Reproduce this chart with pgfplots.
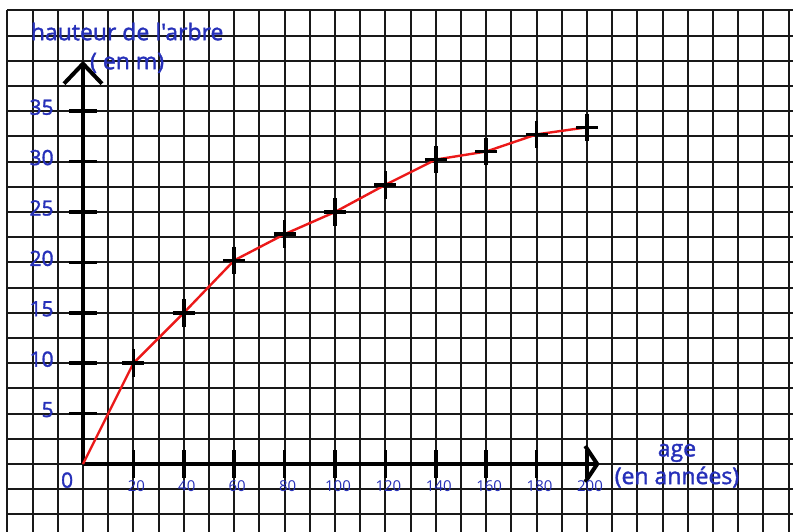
\documentclass[border=0pt]{standalone}
\usepackage{fontspec}
\setmainfont{Open Sans}
\newfontfamily\penfont{Open Sans}[FakeBold=1.6]
\usepackage{pgfplots}
\pgfplotsset{compat=1.18}
\usepackage{pgfplotstable}
\usetikzlibrary{arrows.meta}
\definecolor{penblue}{RGB}{38,48,185}
\definecolor{penred}{RGB}{235,25,25}
\pgfplotstableread{
age hauteur
0 0
20 10
40 15
60 20.2
80 22.8
100 25
120 27.7
140 30.2
160 31
180 32.7
200 33.4
}\arbre
\begin{document}
\begin{tikzpicture}
\begin{axis}[
  x=1.26pt, y=5.04pt,
  xmin=-30, xmax=290, ymin=-8, ymax=45,
  axis line style={draw=none},
  xtick={-30,-20,...,280},
  ytick={-5,-2.5,0,2.5,5,7.5,10,12.5,15,17.5,20,22.5,25,27.5,30,32.5,35,37.5,40,42.5,45},
  xticklabels={}, yticklabels={},
  major tick length=0pt,
  grid=major, grid style={line width=0.95pt, black!90},
  clip=false,
]
\coordinate (O) at (axis cs:0,0);
\end{axis}
\begin{axis}[
  at={(O)}, anchor=origin,
  x=1.26pt, y=5.04pt,
  xmin=0, xmax=205, ymin=0, ymax=40,
  enlargelimits=false,
  axis lines=middle,
  x axis line style={line width=2pt, black, -{Straight Barb[length=6pt, width=18pt]}},
  y axis line style={line width=2pt, black, -{Straight Barb[length=10pt, width=19pt]}},
  xtick={20,40,...,200}, ytick={5,10,...,35},
  tick align=center, major tick length=14pt,
  tick style={line width=1.8pt, black},
  /pgf/number format/assume math mode=true,
  xticklabel style={font=\fontsize{7.5}{8}\selectfont, text=penblue, anchor=center, inner sep=0pt, yshift=-4pt, xshift=1.5pt},
  yticklabel style={font=\penfont\fontsize{10.5}{11}\selectfont, text=penblue, anchor=east, inner sep=0pt, xshift=-7.5pt, yshift=2pt},
  clip=false,
]
\addplot[only marks, mark=+, mark size=5.5pt, mark phase=2, mark options={line width=1.8pt, black, yscale=1.25}] table[x=age,y=hauteur]{\arbre};
\addplot[penred, line width=1.2pt, no marks] table[x=age,y=hauteur]{\arbre};
\node[font=\penfont\fontsize{11.5}{12}\selectfont, text=penblue] at (axis cs:17.5,42.9) {hauteur de l'arbre};
\node[font=\penfont\fontsize{11.5}{12}\selectfont, text=penblue] at (axis cs:17.5,39.8) {( en m)};
\node[font=\penfont\fontsize{11.5}{12}\selectfont, text=penblue] at (axis cs:235.7,1.1) {age};
\node[font=\penfont\fontsize{11.5}{12}\selectfont, text=penblue] at (axis cs:235.7,-1.3) {(en années)};
\node[font=\penfont\fontsize{10.5}{11}\selectfont, text=penblue] at (axis cs:-6.3,-1.6) {0};
\end{axis}
\pgfresetboundingbox
\path[use as bounding box] ([shift={(-41.5pt,232pt)}]O) rectangle ([shift={(355pt,-33.5pt)}]O);
\end{tikzpicture}
\end{document}
